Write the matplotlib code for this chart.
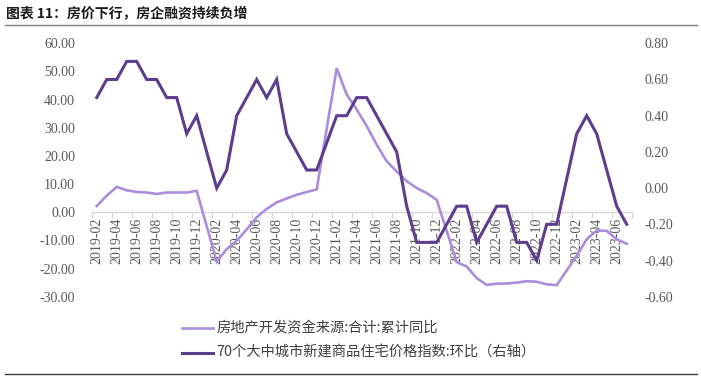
import numpy as np
import pandas as pd
import matplotlib
matplotlib.use('Agg')
import matplotlib.pyplot as plt
from matplotlib.lines import Line2D

plt.rcParams['font.family'] = ['Noto Sans CJK SC', 'DejaVu Sans']

# ---- data ----
dates = [p.strftime('%Y-%m') for p in pd.period_range('2019-02', '2023-07', freq='M')]
nan = np.nan
funding_yoy = [2.2, 5.9, 9.0, 7.8, 7.2, 7.0, 6.5, 7.0, 7.0, 7.0, 7.6,
               nan, -17.5, -13.1, -10.1, -6.1, -1.8, 1.2, 3.5, 4.9, 6.2, 7.2, 8.1,
               nan, 51.2, 41.8, 36.5, 30.6, 24.0, 18.1, 14.5, 11.0, 8.6, 6.8, 4.4,
               nan, -17.7, -19.3, -23.4, -25.8, -25.4, -25.3, -25.0, -24.5, -24.7, -25.6, -25.9,
               nan, -15.5, -9.6, -6.5, -6.6, -9.6, -11.2]
price_mom = [0.5, 0.6, 0.6, 0.7, 0.7, 0.6, 0.6, 0.5, 0.5, 0.3, 0.4,
             0.2, 0.0, 0.1, 0.4, 0.5, 0.6, 0.5, 0.6, 0.3, 0.2, 0.1, 0.1,
             0.25, 0.4, 0.4, 0.5, 0.5, 0.4, 0.3, 0.2, -0.1, -0.3, -0.3, -0.3,
             -0.2, -0.1, -0.1, -0.3, -0.2, -0.1, -0.1, -0.3, -0.3, -0.4, -0.2, -0.2,
             0.05, 0.3, 0.4, 0.3, 0.1, -0.1, -0.2]
left_ticks = [60, 50, 40, 30, 20, 10, 0, -10, -20, -30]
right_ticks = [0.8, 0.6, 0.4, 0.2, 0.0, -0.2, -0.4, -0.6]
title = '图表 11：房价下行，房企融资持续负增'
name_light = '房地产开发资金来源:合计:累计同比'
name_dark = '70个大中城市新建商品住宅价格指数:环比（右轴）'

LIGHT = '#AB8DDD'
DARK = '#5E3D8F'
TICKC = '#595959'
NUMFONT = 'Liberation Serif'

W, H = 701, 378
fig = plt.figure(figsize=(W / 100, H / 100), dpi=100)
fig.patch.set_facecolor('white')

x0, x1 = 91.7, 631.7
y0, y1 = 43.3, 296.7
ax = fig.add_axes([x0 / W, 1 - y1 / H, (x1 - x0) / W, (y1 - y0) / H])
ax2 = ax.twinx()

n = len(dates)
x = np.arange(n)
fy = pd.Series(funding_yoy, dtype=float)
m = fy.notna().values
ax.plot(x[m], fy.values[m], color=LIGHT, lw=1.9, solid_joinstyle='miter', zorder=3)
ax2.plot(x, price_mom, color=DARK, lw=2.2, solid_joinstyle='miter', zorder=3)

ax.set_xlim(-0.5, n - 0.5)
ax.set_ylim(-30, 60)
ax2.set_ylim(-0.6, 0.8)

for a in (ax, ax2):
    for s in a.spines.values():
        s.set_visible(False)
    a.patch.set_visible(False)

ax.spines['bottom'].set_visible(True)
ax.spines['bottom'].set_position(('data', 0))
ax.spines['bottom'].set_color('#D9D9D9')
ax.spines['bottom'].set_linewidth(1.0)

ax.set_yticks(left_ticks)
ax.set_yticklabels([f'{v:.2f}' for v in left_ticks], fontfamily=NUMFONT, fontsize=10, color=TICKC)
ax.tick_params(axis='y', length=0, pad=12)
ax2.set_yticks(right_ticks)
ax2.set_yticklabels([f'{v:.2f}' for v in right_ticks], fontfamily=NUMFONT, fontsize=10, color=TICKC)
ax2.tick_params(axis='y', length=0, pad=9)

lab_idx = list(range(0, n, 2))
ax.set_xticks(lab_idx)
ax.set_xticklabels([dates[i] for i in lab_idx], rotation=90, fontfamily=NUMFONT,
                   fontsize=10, color=TICKC, ha='center', va='top')
ax.set_xticks([i - 0.5 for i in range(0, n + 1, 2)], minor=True)
ax.tick_params(axis='x', which='major', length=0, pad=4)
ax.tick_params(axis='x', which='minor', length=4, color='#D9D9D9', width=1.0)

# title and frame lines
fig.text(6 / W, 1 - 14 / H, title, fontsize=10, fontweight='bold', color='#1a1a1a',
         ha='left', va='center')
fig.add_artist(Line2D([5 / W, 697 / W], [1 - 25 / H, 1 - 25 / H], color='#7f7f7f', lw=1.0))
fig.add_artist(Line2D([5 / W, 697 / W], [1 - 374 / H, 1 - 374 / H], color='#404040', lw=1.0))

# legend
for yy, col, lw, txt in [(327.7, LIGHT, 1.9, name_light), (352.7, DARK, 2.2, name_dark)]:
    fig.add_artist(Line2D([182 / W, 213 / W], [1 - yy / H, 1 - yy / H], color=col, lw=lw))
    fig.text(216.5 / W, 1 - yy / H, txt, fontsize=10.3, color='#404040', ha='left', va='center')

fig.savefig('out.png', dpi=100, facecolor='white')
